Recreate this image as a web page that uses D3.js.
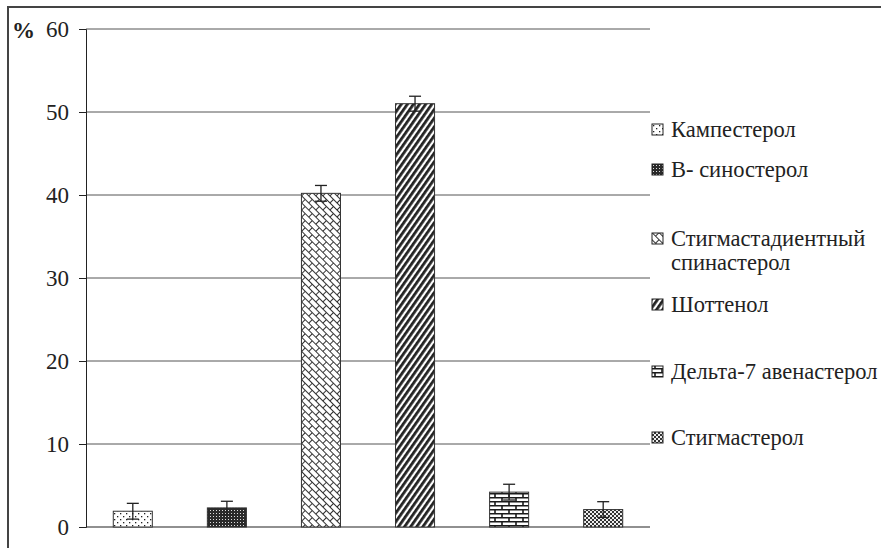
<!DOCTYPE html>
<html>
<head>
<meta charset="utf-8">
<script src="https://cdn.jsdelivr.net/npm/d3@7"></script>
<style>
  body { margin: 0; background: #fff; }
</style>
</head>
<body>
<div id="chart"></div>
<script>
// data
const categories = ["Кампестерол", "В- синостерол", "Стигмастадиентный спинастерол", "Шоттенол", "Дельта-7 авенастерол", "Стигмастерол"];
const legendLines = [["Кампестерол"], ["В- синостерол"], ["Стигмастадиентный", "спинастерол"], ["Шоттенол"], ["Дельта-7 авенастерол"], ["Стигмастерол"]];
const values = [1.9, 2.3, 40.2, 51.0, 4.2, 2.1];
const errors = [0.95, 0.8, 0.95, 0.9, 0.95, 0.95];
const yTicks = [0, 10, 20, 30, 40, 50, 60];
const patternIds = ["pDots", "pDense", "pTrellis", "pStripe", "pBrick", "pCheck"];

const W = 881, H = 548;
const margin = {top: 29, left: 86, right: 231, bottom: 21};
const width = W - margin.left - margin.right;
const height = H - margin.top - margin.bottom;
const serif = "'Liberation Serif'";

const svg = d3.select("#chart").append("svg")
    .attr("width", W)
    .attr("height", H);

// patterns
const defs = svg.append("defs");
let p;
p = defs.append("pattern").attr("id", "pDots").attr("patternUnits", "userSpaceOnUse").attr("width", 6).attr("height", 6);
p.append("rect").attr("width", 6).attr("height", 6).attr("fill", "#fff");
p.append("rect").attr("x", 1).attr("y", 1).attr("width", 1.3).attr("height", 1.3).attr("fill", "#222");
p.append("rect").attr("x", 4).attr("y", 4).attr("width", 1.3).attr("height", 1.3).attr("fill", "#222");

p = defs.append("pattern").attr("id", "pDense").attr("patternUnits", "userSpaceOnUse").attr("width", 3).attr("height", 3);
p.append("rect").attr("width", 3).attr("height", 3).attr("fill", "#2a2a2a");
p.append("rect").attr("x", 1).attr("y", 1).attr("width", 1).attr("height", 1).attr("fill", "#ddd");

// diagonal brick
p = defs.append("pattern").attr("id", "pTrellis").attr("patternUnits", "userSpaceOnUse").attr("width", 10).attr("height", 10)
    .attr("patternTransform", "rotate(45)");
p.append("rect").attr("width", 10).attr("height", 10).attr("fill", "#fff");
p.append("path").attr("d", "M0,0.5 H10 M0,5.5 H10 M0.5,0 V5.5 M5.5,5.5 V10")
    .attr("stroke", "#333").attr("stroke-width", 1).attr("fill", "none");

p = defs.append("pattern").attr("id", "pStripe").attr("patternUnits", "userSpaceOnUse").attr("width", 5).attr("height", 5)
    .attr("patternTransform", "rotate(35)");
p.append("rect").attr("width", 5).attr("height", 5).attr("fill", "#fff");
p.append("rect").attr("width", 2.8).attr("height", 5).attr("fill", "#222");

p = defs.append("pattern").attr("id", "pBrick").attr("patternUnits", "userSpaceOnUse").attr("width", 14).attr("height", 8);
p.append("rect").attr("width", 14).attr("height", 8).attr("fill", "#fff");
p.append("path").attr("d", "M0,0.75 H14 M0,4.75 H14 M3,0 V4 M10,4 V8")
    .attr("stroke", "#1a1a1a").attr("stroke-width", 1.6).attr("fill", "none");

p = defs.append("pattern").attr("id", "pCheck").attr("patternUnits", "userSpaceOnUse").attr("width", 4).attr("height", 4);
p.append("rect").attr("width", 4).attr("height", 4).attr("fill", "#eee");
p.append("rect").attr("width", 2).attr("height", 2).attr("fill", "#333");
p.append("rect").attr("x", 2).attr("y", 2).attr("width", 2).attr("height", 2).attr("fill", "#333");

// outer frame (right/bottom edges run off the picture)
svg.append("path")
    .attr("d", `M8,${H + 5} V7 H${W + 5}`)
    .attr("fill", "none")
    .attr("stroke", "#444")
    .attr("stroke-width", 2);

const g = svg.append("g").attr("transform", `translate(${margin.left},${margin.top})`);

const x = d3.scaleBand().domain(categories).range([0, width]).paddingInner(0.585).paddingOuter(0.29);
const y = d3.scaleLinear().domain([0, 60]).range([height, 0]);

// gridlines
g.selectAll(".grid").data(yTicks.slice(1))
    .enter().append("line")
    .attr("x1", 0).attr("x2", width)
    .attr("y1", d => y(d)).attr("y2", d => y(d))
    .attr("stroke", "#555").attr("stroke-width", 1);

// y axis
const yAxis = g.append("g")
    .call(d3.axisLeft(y).tickValues(yTicks).tickSize(7).tickPadding(10));
yAxis.attr("font-family", null).attr("font-size", null);
yAxis.select(".domain").attr("stroke", "#222");
yAxis.selectAll(".tick line").attr("stroke", "#222");
yAxis.selectAll(".tick text")
    .style("font-family", serif)
    .style("font-size", "23px")
    .attr("fill", "#222");

// x baseline
g.append("line")
    .attr("x1", 0).attr("x2", width)
    .attr("y1", y(0)).attr("y2", y(0))
    .attr("stroke", "#222").attr("stroke-width", 1.2);

// bars
g.selectAll(".bar").data(values)
    .enter().append("rect")
    .attr("x", (d, i) => x(categories[i]))
    .attr("y", d => y(d))
    .attr("width", x.bandwidth())
    .attr("height", d => y(0) - y(d))
    .attr("fill", (d, i) => `url(#${patternIds[i]})`)
    .attr("stroke", "#333")
    .attr("stroke-width", 1);

// error bars
const eb = g.selectAll(".err").data(values).enter().append("g");
eb.append("line")
    .attr("x1", (d, i) => x(categories[i]) + x.bandwidth() / 2)
    .attr("x2", (d, i) => x(categories[i]) + x.bandwidth() / 2)
    .attr("y1", (d, i) => y(d + errors[i]))
    .attr("y2", (d, i) => y(d - errors[i]))
    .attr("stroke", "#222").attr("stroke-width", 1.3);
eb.append("line")
    .attr("x1", (d, i) => x(categories[i]) + x.bandwidth() / 2 - 6)
    .attr("x2", (d, i) => x(categories[i]) + x.bandwidth() / 2 + 6)
    .attr("y1", (d, i) => y(d + errors[i]))
    .attr("y2", (d, i) => y(d + errors[i]))
    .attr("stroke", "#222").attr("stroke-width", 1.3);
eb.append("line")
    .attr("x1", (d, i) => x(categories[i]) + x.bandwidth() / 2 - 6)
    .attr("x2", (d, i) => x(categories[i]) + x.bandwidth() / 2 + 6)
    .attr("y1", (d, i) => y(d - errors[i]))
    .attr("y2", (d, i) => y(d - errors[i]))
    .attr("stroke", "#222").attr("stroke-width", 1.3);

// "%" label
svg.append("text")
    .attr("x", 12).attr("y", 38)
    .style("font-family", serif)
    .style("font-size", "23px").style("font-weight", "bold")
    .attr("fill", "#222")
    .text("%");

// legend
const legendY = [130, 170, 239, 305, 372, 438];
const leg = svg.selectAll(".leg").data(legendLines)
    .enter().append("g")
    .attr("transform", (d, i) => `translate(652,${legendY[i]})`);
leg.append("rect")
    .attr("x", 0).attr("y", -6).attr("width", 11).attr("height", 11)
    .attr("fill", (d, i) => `url(#${patternIds[i]})`)
    .attr("stroke", "#222").attr("stroke-width", 1);
leg.append("text")
    .attr("x", 19)
    .attr("y", 7)
    .style("font-family", serif)
    .style("font-size", "22.5px")
    .attr("fill", "#222")
    .selectAll("tspan").data(d => d)
    .enter().append("tspan")
    .attr("x", 19)
    .attr("dy", (d, i) => i === 0 ? 0 : 24)
    .text(d => d);
</script>
</body>
</html>
